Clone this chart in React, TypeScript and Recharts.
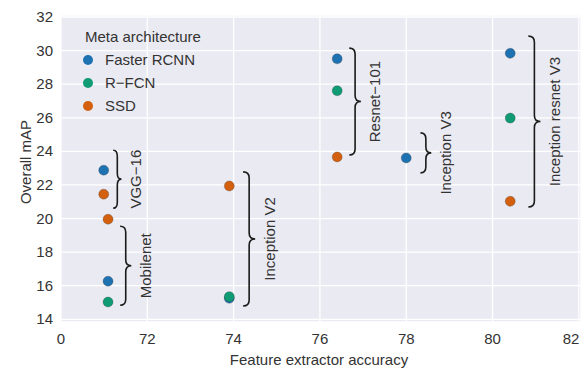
import React from "react";
import { ScatterChart, Scatter, XAxis, YAxis, CartesianGrid, ReferenceArea } from "recharts";

const seriesNames = ["Faster RCNN", "R\u2212FCN", "SSD"];
const seriesColors = ["#1f72b1", "#0f9b74", "#d2600f"];

const fasterRcnn = [
  { x: 70.99, y: 22.88 },
  { x: 71.09, y: 16.27 },
  { x: 73.9, y: 15.25 },
  { x: 76.4, y: 29.51 },
  { x: 78.0, y: 23.61 },
  { x: 80.41, y: 29.84 },
];
const rfcn = [
  { x: 71.09, y: 15.03 },
  { x: 73.9, y: 15.35 },
  { x: 76.4, y: 27.61 },
  { x: 80.41, y: 25.98 },
];
const ssd = [
  { x: 70.99, y: 21.45 },
  { x: 71.09, y: 19.96 },
  { x: 73.9, y: 21.94 },
  { x: 76.4, y: 23.67 },
  { x: 80.41, y: 21.03 },
];

// feature extractor groups: label, brace x range, brace y range
const braceLabels = ["VGG\u221216", "Mobilenet", "Inception V2", "Resnet\u2212101", "Inception V3", "Inception resnet V3"];
const braceX1 = [71.21, 71.37, 74.22, 76.68, 78.33, 80.83];
const braceX2 = [71.4, 71.63, 74.5, 76.95, 78.58, 81.11];
const braceYLow = [20.62, 14.84, 14.79, 23.78, 22.72, 20.69];
const braceYHigh = [24.07, 19.54, 22.78, 30.15, 25.1, 30.86];

const xTicks = [70, 72, 74, 76, 78, 80, 82];
const yTicks = [14, 16, 18, 20, 22, 24, 26, 28, 30, 32];

const FONT = "'Liberation Sans', Arial, sans-serif";
const TEXT = "#333333";

const Dot = (props: any) => {
  const { cx, cy, fill } = props;
  return <circle cx={cx} cy={cy} r={5} fill={fill} stroke="#333" strokeOpacity={0.35} strokeWidth={0.8} />;
};

const XTick = (props: any) => {
  const { x, y, payload } = props;
  const label = payload.value === 70 ? "0" : String(payload.value);
  const tx = Math.min(x, 571);
  return (
    <text x={tx} y={y} dy={14} textAnchor="middle" fontSize={15} fill={TEXT} fontFamily={FONT}>
      {label}
    </text>
  );
};

const YTick = (props: any) => {
  const { x, y, payload } = props;
  return (
    <text x={x} y={y} dy={5} textAnchor="end" fontSize={15} fill={TEXT} fontFamily={FONT}>
      {payload.value}
    </text>
  );
};

const makeBrace = (label: string) => (props: any) => {
  const { x, y, width, height } = props;
  const w = width;
  const r = Math.min(6, height / 4);
  const mid = y + height / 2;
  const xm = x + w / 2;
  const d = [
    `M${x},${y}`,
    `Q${xm},${y} ${xm},${y + r}`,
    `L${xm},${mid - r}`,
    `Q${xm},${mid} ${x + w},${mid}`,
    `Q${xm},${mid} ${xm},${mid + r}`,
    `L${xm},${y + height - r}`,
    `Q${xm},${y + height} ${x},${y + height}`,
  ].join(" ");
  const lx = x + w + 14;
  return (
    <g>
      <path d={d} fill="none" stroke="#1a1a1a" strokeWidth={1.6} />
      <text
        x={lx}
        y={mid}
        transform={`rotate(-90 ${lx} ${mid})`}
        textAnchor="middle"
        dominantBaseline="central"
        fontSize={15}
        fill={TEXT}
        fontFamily={FONT}
      >
        {label}
      </text>
    </g>
  );
};

const seriesData = [fasterRcnn, rfcn, ssd];

export default function App() {
  return (
    <div style={{ position: "relative", width: 581, height: 372, fontFamily: FONT }}>
      <style>{`body{margin:0}`}</style>
      <ScatterChart width={581} height={372} margin={{ top: 15, right: 0, bottom: 20, left: 0 }}>
        <CartesianGrid stroke="#ffffff" strokeWidth={1.3} fill="#eaeaf2" fillOpacity={1} />
        <XAxis
          type="number"
          dataKey="x"
          domain={[70, 82.05]}
          ticks={xTicks}
          axisLine={false}
          tickLine={false}
          height={30}
          tick={<XTick />}
          allowDataOverflow
        />
        <YAxis
          type="number"
          dataKey="y"
          domain={[13.84, 32.12]}
          ticks={yTicks}
          axisLine={false}
          tickLine={false}
          width={61}
          tick={<YTick />}
          allowDataOverflow
        />
        {braceLabels.map((b, i) => (
          <ReferenceArea
            key={b}
            x1={braceX1[i]}
            x2={braceX2[i]}
            y1={braceYLow[i]}
            y2={braceYHigh[i]}
            shape={makeBrace(b)}
          />
        ))}
        {seriesData.map((d, i) => (
          <Scatter
            key={seriesNames[i]}
            name={seriesNames[i]}
            data={d}
            fill={seriesColors[i]}
            shape={<Dot />}
            isAnimationActive={false}
          />
        ))}
      </ScatterChart>
      <div
        style={{
          position: "absolute",
          left: 25,
          top: 162,
          transform: "translate(-50%, -50%) rotate(-90deg)",
          fontSize: 15,
          color: TEXT,
          whiteSpace: "nowrap",
        }}
      >
        Overall mAP
      </div>
      <div
        style={{
          position: "absolute",
          left: 319,
          top: 359,
          transform: "translate(-50%, -50%)",
          fontSize: 15,
          color: TEXT,
          whiteSpace: "nowrap",
        }}
      >
        Feature extractor accuracy
      </div>
      <div style={{ position: "absolute", left: 85, top: 25, fontSize: 15, color: TEXT, lineHeight: "23px" }}>
        <div>Meta architecture</div>
        {seriesNames.map((n, i) => (
          <div key={n} style={{ display: "flex", alignItems: "center" }}>
            <span
              style={{
                display: "inline-block",
                width: 10,
                height: 10,
                borderRadius: 5,
                background: seriesColors[i],
                marginLeft: -2,
                marginRight: 12,
              }}
            />
            {n}
          </div>
        ))}
      </div>
    </div>
  );
}
